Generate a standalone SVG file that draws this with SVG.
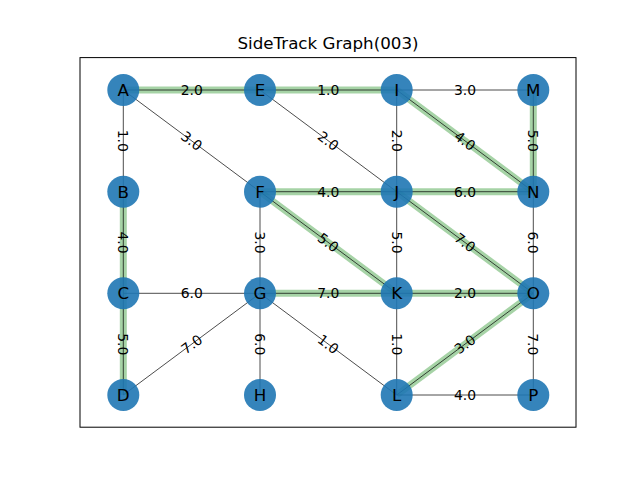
<svg xmlns="http://www.w3.org/2000/svg" width="640" height="480" viewBox="0 0 640 480">
<style>
.hl{stroke:#008000;stroke-opacity:0.35;stroke-width:7;fill:none}
.e{stroke:#000;stroke-opacity:0.7;stroke-width:1;fill:none}
.n circle{fill:#1f77b4;fill-opacity:0.9}
.n text{font-family:"DejaVu Sans",sans-serif;font-size:16.7px;fill:#000;text-anchor:middle;dominant-baseline:central}
.lb{font-family:"DejaVu Sans",sans-serif;font-size:13.9px;fill:#000;text-anchor:middle;dominant-baseline:central}
</style>
<rect width="640" height="480" fill="#fff"/>
<text x="328" y="49" font-family="DejaVu Sans,sans-serif" font-size="16.7px" text-anchor="middle">SideTrack Graph(003)</text>
<rect x="80" y="57.6" width="496" height="369.6" fill="none" stroke="#000" stroke-width="1"/>
<g id="connectors">
<g id="highlights">
<line class="hl" x1="123.3" y1="90" x2="260" y2="90"/>
<line class="hl" x1="260" y1="90" x2="396.7" y2="90"/>
<line class="hl" x1="396.7" y1="90" x2="533.3" y2="191.7"/>
<line class="hl" x1="533.3" y1="90" x2="533.3" y2="191.7"/>
<line class="hl" x1="123.3" y1="191.7" x2="123.3" y2="293.3"/>
<line class="hl" x1="260" y1="191.7" x2="396.7" y2="191.7"/>
<line class="hl" x1="396.7" y1="191.7" x2="533.3" y2="191.7"/>
<line class="hl" x1="260" y1="191.7" x2="396.7" y2="293.3"/>
<line class="hl" x1="396.7" y1="191.7" x2="533.3" y2="293.3"/>
<line class="hl" x1="260" y1="293.3" x2="396.7" y2="293.3"/>
<line class="hl" x1="396.7" y1="293.3" x2="533.3" y2="293.3"/>
<line class="hl" x1="123.3" y1="293.3" x2="123.3" y2="395"/>
<line class="hl" x1="396.7" y1="395" x2="533.3" y2="293.3"/>
</g>
<g id="edges">
<line class="e" x1="123.3" y1="90" x2="260" y2="90"/>
<line class="e" x1="260" y1="90" x2="396.7" y2="90"/>
<line class="e" x1="396.7" y1="90" x2="533.3" y2="90"/>
<line class="e" x1="123.3" y1="90" x2="123.3" y2="191.7"/>
<line class="e" x1="123.3" y1="90" x2="260" y2="191.7"/>
<line class="e" x1="260" y1="90" x2="396.7" y2="191.7"/>
<line class="e" x1="396.7" y1="90" x2="396.7" y2="191.7"/>
<line class="e" x1="396.7" y1="90" x2="533.3" y2="191.7"/>
<line class="e" x1="533.3" y1="90" x2="533.3" y2="191.7"/>
<line class="e" x1="123.3" y1="191.7" x2="123.3" y2="293.3"/>
<line class="e" x1="260" y1="191.7" x2="396.7" y2="191.7"/>
<line class="e" x1="396.7" y1="191.7" x2="533.3" y2="191.7"/>
<line class="e" x1="260" y1="191.7" x2="260" y2="293.3"/>
<line class="e" x1="260" y1="191.7" x2="396.7" y2="293.3"/>
<line class="e" x1="396.7" y1="191.7" x2="396.7" y2="293.3"/>
<line class="e" x1="396.7" y1="191.7" x2="533.3" y2="293.3"/>
<line class="e" x1="533.3" y1="191.7" x2="533.3" y2="293.3"/>
<line class="e" x1="123.3" y1="293.3" x2="260" y2="293.3"/>
<line class="e" x1="260" y1="293.3" x2="396.7" y2="293.3"/>
<line class="e" x1="396.7" y1="293.3" x2="533.3" y2="293.3"/>
<line class="e" x1="123.3" y1="293.3" x2="123.3" y2="395"/>
<line class="e" x1="123.3" y1="395" x2="260" y2="293.3"/>
<line class="e" x1="260" y1="293.3" x2="260" y2="395"/>
<line class="e" x1="260" y1="293.3" x2="396.7" y2="395"/>
<line class="e" x1="396.7" y1="293.3" x2="396.7" y2="395"/>
<line class="e" x1="396.7" y1="395" x2="533.3" y2="293.3"/>
<line class="e" x1="533.3" y1="293.3" x2="533.3" y2="395"/>
<line class="e" x1="396.7" y1="395" x2="533.3" y2="395"/>
</g>
</g>
<g id="nodes">
<g id="A" class="n"><circle cx="123.3" cy="90" r="16"/><text x="123.3" y="90">A</text></g>
<g id="B" class="n"><circle cx="123.3" cy="191.7" r="16"/><text x="123.3" y="191.7">B</text></g>
<g id="C" class="n"><circle cx="123.3" cy="293.3" r="16"/><text x="123.3" y="293.3">C</text></g>
<g id="D" class="n"><circle cx="123.3" cy="395" r="16"/><text x="123.3" y="395">D</text></g>
<g id="E" class="n"><circle cx="260" cy="90" r="16"/><text x="260" y="90">E</text></g>
<g id="F" class="n"><circle cx="260" cy="191.7" r="16"/><text x="260" y="191.7">F</text></g>
<g id="G" class="n"><circle cx="260" cy="293.3" r="16"/><text x="260" y="293.3">G</text></g>
<g id="H" class="n"><circle cx="260" cy="395" r="16"/><text x="260" y="395">H</text></g>
<g id="I" class="n"><circle cx="396.7" cy="90" r="16"/><text x="396.7" y="90">I</text></g>
<g id="J" class="n"><circle cx="396.7" cy="191.7" r="16"/><text x="396.7" y="191.7">J</text></g>
<g id="K" class="n"><circle cx="396.7" cy="293.3" r="16"/><text x="396.7" y="293.3">K</text></g>
<g id="L" class="n"><circle cx="396.7" cy="395" r="16"/><text x="396.7" y="395">L</text></g>
<g id="M" class="n"><circle cx="533.3" cy="90" r="16"/><text x="533.3" y="90">M</text></g>
<g id="N" class="n"><circle cx="533.3" cy="191.7" r="16"/><text x="533.3" y="191.7">N</text></g>
<g id="O" class="n"><circle cx="533.3" cy="293.3" r="16"/><text x="533.3" y="293.3">O</text></g>
<g id="P" class="n"><circle cx="533.3" cy="395" r="16"/><text x="533.3" y="395">P</text></g>
</g>
<g id="edge-labels">
<text class="lb" x="191.7" y="90">2.0</text>
<text class="lb" x="328.3" y="90">1.0</text>
<text class="lb" x="465" y="90">3.0</text>
<text class="lb" transform="translate(123.3,140.8) rotate(90)">1.0</text>
<text class="lb" transform="translate(191.7,140.8) rotate(36.65)">3.0</text>
<text class="lb" transform="translate(328.3,140.8) rotate(36.65)">2.0</text>
<text class="lb" transform="translate(396.7,140.8) rotate(90)">2.0</text>
<text class="lb" transform="translate(465,140.8) rotate(36.65)">4.0</text>
<text class="lb" transform="translate(533.3,140.8) rotate(90)">5.0</text>
<text class="lb" transform="translate(123.3,242.5) rotate(90)">4.0</text>
<text class="lb" x="328.3" y="191.7">4.0</text>
<text class="lb" x="465" y="191.7">6.0</text>
<text class="lb" transform="translate(260,242.5) rotate(90)">3.0</text>
<text class="lb" transform="translate(328.3,242.5) rotate(36.65)">5.0</text>
<text class="lb" transform="translate(396.7,242.5) rotate(90)">5.0</text>
<text class="lb" transform="translate(465,242.5) rotate(36.65)">7.0</text>
<text class="lb" transform="translate(533.3,242.5) rotate(90)">6.0</text>
<text class="lb" x="191.7" y="293.3">6.0</text>
<text class="lb" x="328.3" y="293.3">7.0</text>
<text class="lb" x="465" y="293.3">2.0</text>
<text class="lb" transform="translate(123.3,344.2) rotate(90)">5.0</text>
<text class="lb" transform="translate(191.7,344.2) rotate(-36.65)">7.0</text>
<text class="lb" transform="translate(260,344.2) rotate(90)">6.0</text>
<text class="lb" transform="translate(328.3,344.2) rotate(36.65)">1.0</text>
<text class="lb" transform="translate(396.7,344.2) rotate(90)">1.0</text>
<text class="lb" transform="translate(465,344.2) rotate(-36.65)">3.0</text>
<text class="lb" transform="translate(533.3,344.2) rotate(90)">7.0</text>
<text class="lb" x="465" y="395">4.0</text>
</g>
</svg>
